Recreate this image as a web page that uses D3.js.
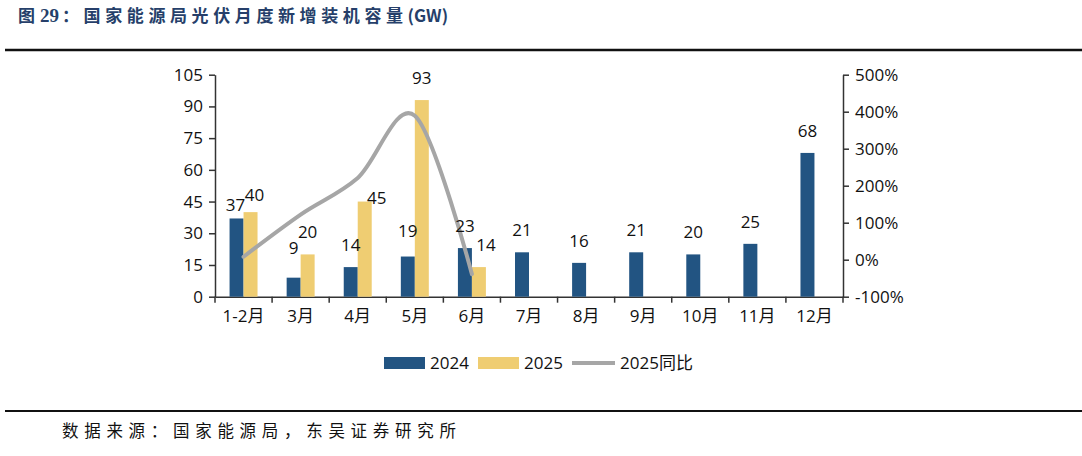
<!DOCTYPE html>
<html>
<head>
<meta charset="utf-8">
<script src="https://cdn.jsdelivr.net/npm/d3@7"></script>
<style>
    body { margin: 0; background: #fff; }
    svg text { font-family: "Open Sans", "Noto Sans CJK SC", sans-serif; }
    .cjk { font-family: "Noto Sans CJK SC", sans-serif !important; }
</style>
</head>
<body>
<div id="chart"></div>
<script>
// data
let months = ["1-2月", "3月", "4月", "5月", "6月", "7月", "8月", "9月", "10月", "11月", "12月"];
let vals2024 = [37, 9, 14, 19, 23, 21, 16, 21, 20, 25, 68];
let vals2025 = [40, 20, 45, 93, 14];
let yoy2025 = [8, 122, 221, 389, -39];
let leftTicks = [0, 15, 30, 45, 60, 75, 90, 105];
let rightTicks = [-100, 0, 100, 200, 300, 400, 500];

// hand moved labels in the original (dx, dy)
let nudge2024 = { "1-2月": [-1, 9], "3月": [0, -8], "5月": [0, -4] };
let nudge2025 = { "1-2月": [4, 5], "4月": [12, 18], "6月": [7, 0] };

function drawChart() {
    let width = 1082,
        height = 456,
        plotLeft = 215,
        plotRight = 843,
        plotTop = 74.7,
        plotBottom = 296.7,
        blue = "#225482",
        yellow = "#EFCD72",
        gray = "#A6A6A6",
        axisColor = "#333";

    let svg = d3.select("#chart")
        .append("svg")
        .attr("width", width)
        .attr("height", height);

    // title and rules
    let title = svg.append("text")
        .attr("class", "cjk")
        .attr("x", 18)
        .attr("y", 22)
        .style("font-size", "17px")
        .style("font-weight", 700)
        .style("fill", "#263F6A");
    title.append("tspan").text("图");
    title.append("tspan")
        .attr("x", 40)
        .style("font-family", "'Liberation Serif', serif")
        .style("font-size", "19px")
        .text("29");
    title.append("tspan")
        .attr("x", 62)
        .style("letter-spacing", "4.6px")
        .text("：国家能源局光伏月度新增装机容量");
    title.append("tspan").text("(GW)");

    svg.append("line")
        .attr("x1", 5).attr("x2", width)
        .attr("y1", 50).attr("y2", 50)
        .style("stroke", "#111")
        .style("stroke-width", 2.5);

    svg.append("line")
        .attr("x1", 5).attr("x2", width)
        .attr("y1", 411).attr("y2", 411)
        .style("stroke", "#111")
        .style("stroke-width", 2);

    svg.append("text")
        .attr("class", "cjk")
        .attr("x", 62)
        .attr("y", 437)
        .style("font-size", "16.5px")
        .style("letter-spacing", "5.7px")
        .style("fill", "#111")
        .text("数据来源：国家能源局，东吴证券研究所");

    // scales
    let x = d3.scaleBand()
        .domain(months)
        .range([plotLeft, plotRight]);

    let y = d3.scaleLinear()
        .domain([0, 105])
        .range([plotBottom, plotTop]);

    let y2 = d3.scaleLinear()
        .domain([-100, 500])
        .range([plotBottom, plotTop]);

    let barW = x.bandwidth() * 0.245;

    // axes
    let leftAxis = svg.append("g")
        .attr("transform", "translate(" + plotLeft + ",0)")
        .call(d3.axisLeft(y).tickValues(leftTicks).tickSize(6).tickPadding(6).tickSizeOuter(0));

    let rightAxis = svg.append("g")
        .attr("transform", "translate(" + plotRight + ",0)")
        .call(d3.axisRight(y2).tickValues(rightTicks).tickSize(6).tickPadding(6).tickSizeOuter(0)
            .tickFormat(function (d) { return (d < 0 ? "-" : "") + Math.abs(d) + "%"; }));

    let bottomAxis = svg.append("g")
        .attr("transform", "translate(0," + plotBottom + ")")
        .call(d3.axisBottom(x).tickSize(0).tickPadding(20));

    [leftAxis, rightAxis, bottomAxis].forEach(function (g) {
        g.select(".domain").style("stroke", axisColor).style("stroke-width", 1.5);
        g.selectAll(".tick line").style("stroke", axisColor).style("stroke-width", 1.5);
        g.selectAll(".tick text")
            .style("font-size", "17px")
            .style("fill", "#111");
    });

    bottomAxis.selectAll(".tick text").attr("dy", "0.32em");

    // category boundary ticks on the x axis
    let bounds = months.map(function (m) { return x(m); }).concat([plotRight]);
    svg.selectAll(".xbound")
        .data(bounds)
        .enter()
        .append("line")
        .attr("class", "xbound")
        .attr("x1", function (d) { return d; })
        .attr("x2", function (d) { return d; })
        .attr("y1", plotBottom)
        .attr("y2", plotBottom + 6)
        .style("stroke", axisColor)
        .style("stroke-width", 1.5);

    // bars
    let center = function (m) { return x(m) + x.bandwidth() / 2; };

    svg.selectAll(".bar2024")
        .data(vals2024)
        .enter()
        .append("rect")
        .attr("class", "bar2024")
        .attr("x", function (d, i) { return center(months[i]) - barW; })
        .attr("y", function (d) { return y(d); })
        .attr("width", barW)
        .attr("height", function (d) { return plotBottom - y(d); })
        .style("fill", blue);

    svg.selectAll(".bar2025")
        .data(vals2025)
        .enter()
        .append("rect")
        .attr("class", "bar2025")
        .attr("x", function (d, i) { return center(months[i]); })
        .attr("y", function (d) { return y(d); })
        .attr("width", barW)
        .attr("height", function (d) { return plotBottom - y(d); })
        .style("fill", yellow);

    // yoy line
    let line = d3.line()
        .x(function (d, i) { return center(months[i]); })
        .y(function (d) { return y2(d); })
        .curve(d3.curveCardinal.tension(0));

    svg.append("path")
        .datum(yoy2025)
        .attr("d", line)
        .style("fill", "none")
        .style("stroke", gray)
        .style("stroke-width", 4)
        .style("stroke-linecap", "round");

    // data labels
    svg.selectAll(".lab2024")
        .data(vals2024)
        .enter()
        .append("text")
        .attr("class", "lab2024")
        .attr("x", function (d, i) {
            let n = nudge2024[months[i]] || [0, 0];
            return center(months[i]) - barW / 2 + n[0];
        })
        .attr("y", function (d, i) {
            let n = nudge2024[months[i]] || [0, 0];
            return y(d) - 16 + n[1];
        })
        .style("text-anchor", "middle")
        .style("font-size", "17px")
        .style("fill", "#111")
        .text(function (d) { return d; });

    svg.selectAll(".lab2025")
        .data(vals2025)
        .enter()
        .append("text")
        .attr("class", "lab2025")
        .attr("x", function (d, i) {
            let n = nudge2025[months[i]] || [0, 0];
            return center(months[i]) + barW / 2 + n[0];
        })
        .attr("y", function (d, i) {
            let n = nudge2025[months[i]] || [0, 0];
            return y(d) - 16 + n[1];
        })
        .style("text-anchor", "middle")
        .style("font-size", "17px")
        .style("fill", "#111")
        .text(function (d) { return d; });

    // legend
    let legend = svg.append("g").attr("transform", "translate(384,363)");

    legend.append("rect")
        .attr("x", 0).attr("y", -6)
        .attr("width", 41).attr("height", 12)
        .style("fill", blue);
    legend.append("text")
        .attr("x", 46).attr("y", 0).attr("dy", "0.35em")
        .style("font-size", "17px").style("fill", "#111")
        .text("2024");

    legend.append("rect")
        .attr("x", 94).attr("y", -6)
        .attr("width", 41).attr("height", 12)
        .style("fill", yellow);
    legend.append("text")
        .attr("x", 140).attr("y", 0).attr("dy", "0.35em")
        .style("font-size", "17px").style("fill", "#111")
        .text("2025");

    legend.append("line")
        .attr("x1", 188).attr("x2", 231)
        .attr("y1", 0).attr("y2", 0)
        .style("stroke", gray)
        .style("stroke-width", 4);
    legend.append("text")
        .attr("x", 236).attr("y", 0).attr("dy", "0.35em")
        .style("font-size", "17px").style("fill", "#111")
        .text("2025同比");
}

drawChart();
</script>
</body>
</html>
